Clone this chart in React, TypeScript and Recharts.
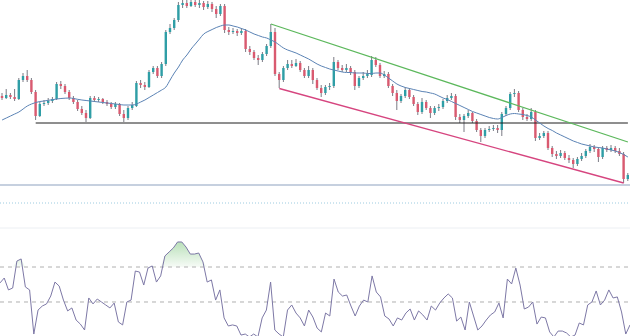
import React from "react";
import { ComposedChart, Bar, Line, Area, XAxis, YAxis, ReferenceLine } from "recharts";

// Price candles (index points)
const openP = [1104,1102,1105,1103,1101,1120,1124,1120,1108,1084,1096,1097,1099,1101,1116,1114,1108,1102,1098,1091,1087,1082,1102,1100,1101,1098,1096,1093,1096,1086,1082,1092,1094,1117,1115,1113,1128,1132,1124,1136,1168,1172,1180,1195,1197,1194,1198,1195,1197,1193,1196,1191,1186,1194,1170,1168,1169,1167,1169,1151,1148,1142,1140,1146,1154,1168,1126,1120,1132,1136,1134,1137,1130,1124,1130,1120,1112,1107,1113,1114,1138,1132,1130,1132,1128,1114,1122,1124,1125,1140,1135,1124,1126,1114,1107,1099,1104,1110,1103,1096,1088,1098,1092,1087,1092,1093,1099,1102,1104,1083,1080,1084,1087,1079,1070,1064,1070,1071,1072,1070,1086,1092,1106,1107,1090,1083,1081,1088,1062,1064,1067,1052,1046,1044,1047,1042,1040,1036,1041,1044,1049,1053,1051,1043,1052,1050,1052,1049,1046,1021];
const highP = [1107,1111,1107,1111,1122,1127,1130,1122,1110,1098,1100,1102,1103,1118,1119,1116,1110,1104,1100,1094,1090,1104,1104,1103,1102,1100,1098,1098,1097,1090,1094,1098,1119,1120,1118,1130,1134,1134,1138,1170,1176,1182,1198,1200,1200,1200,1200,1200,1199,1199,1198,1194,1196,1196,1173,1172,1171,1172,1171,1154,1150,1145,1148,1156,1176,1172,1128,1134,1140,1140,1141,1139,1132,1134,1132,1122,1115,1115,1117,1143,1140,1135,1136,1134,1130,1124,1128,1130,1144,1143,1137,1129,1128,1116,1110,1106,1113,1112,1105,1098,1102,1100,1094,1094,1096,1101,1105,1107,1106,1086,1086,1090,1088,1081,1072,1072,1074,1075,1075,1088,1094,1108,1111,1109,1092,1086,1092,1090,1067,1069,1069,1054,1049,1050,1049,1045,1042,1043,1047,1051,1056,1055,1053,1054,1054,1055,1054,1052,1048,1027];
const lowP = [1100,1101,1101,1099,1100,1118,1118,1106,1080,1083,1094,1095,1097,1100,1111,1106,1100,1096,1089,1085,1078,1081,1098,1098,1096,1094,1091,1091,1084,1078,1080,1090,1093,1112,1110,1112,1126,1122,1122,1134,1166,1170,1178,1192,1192,1193,1193,1192,1190,1191,1188,1182,1184,1167,1165,1166,1164,1165,1148,1145,1140,1135,1138,1144,1152,1124,1112,1118,1130,1132,1133,1128,1122,1122,1116,1110,1103,1105,1110,1112,1130,1128,1128,1125,1110,1112,1120,1122,1123,1133,1122,1122,1112,1104,1090,1097,1102,1101,1094,1085,1086,1090,1082,1085,1089,1091,1097,1100,1080,1077,1068,1082,1077,1068,1058,1062,1068,1069,1067,1064,1084,1090,1103,1088,1080,1079,1079,1059,1060,1062,1050,1043,1041,1042,1040,1037,1032,1034,1039,1042,1047,1048,1038,1041,1048,1048,1047,1044,1017,1019];
const closeP = [1102,1105,1103,1101,1120,1124,1120,1108,1084,1096,1097,1099,1101,1116,1114,1108,1102,1098,1091,1087,1082,1102,1100,1101,1098,1096,1093,1096,1086,1082,1092,1095,1117,1115,1113,1128,1132,1124,1136,1168,1172,1180,1195,1197,1194,1198,1195,1197,1193,1196,1191,1186,1194,1170,1168,1169,1167,1169,1151,1148,1142,1140,1146,1154,1168,1126,1120,1132,1136,1134,1137,1130,1124,1130,1120,1112,1107,1113,1114,1138,1132,1130,1132,1128,1114,1122,1124,1126,1140,1135,1124,1126,1114,1107,1099,1104,1110,1103,1096,1088,1098,1092,1087,1092,1093,1099,1102,1104,1083,1080,1084,1087,1079,1070,1064,1070,1071,1072,1070,1086,1092,1106,1107,1090,1083,1081,1088,1062,1064,1067,1052,1046,1044,1047,1042,1040,1036,1041,1044,1049,1053,1051,1043,1052,1050,1052,1049,1046,1021,1025];
// Moving average
const maP = [1080,1082,1084,1086,1088,1091,1094,1096,1097.5,1098.5,1099,1099.7,1100.3,1101,1101.5,1101.8,1102,1101.5,1100.7,1100,1099.5,1099,1098.5,1098,1097.5,1097,1096.5,1096,1095.5,1095,1095,1095,1096,1098,1100,1102.5,1105,1107.5,1110,1113,1120,1127,1133,1140,1145,1151,1156,1161,1166,1168.5,1170.5,1172.5,1174,1175,1175,1174,1173,1171.5,1170,1168,1166,1164.5,1163,1162,1160,1158,1155,1152,1150,1148.5,1147,1145,1143,1141,1138.5,1136,1134,1132.5,1131,1130,1129,1128,1127.5,1127.5,1127,1127,1127,1126.5,1126.5,1127,1127,1125,1122,1119,1116,1114,1112.5,1111.5,1110.5,1109.5,1108.5,1108,1107,1106,1104,1102,1100.5,1098.5,1096.5,1094.5,1092.5,1090.5,1088.5,1087,1085.5,1084,1082.5,1081.5,1081,1082.5,1084.5,1086,1086.5,1086,1085.5,1084.5,1083,1080,1077,1074,1071.5,1069.5,1067,1065,1063,1061,1059,1057.5,1056,1055,1054,1053,1052.5,1052,1051,1050,1049,1047.5,1045.5,1043];
// RSI
const rsiP = [60.9,63.7,56.9,58.0,73.4,74.6,58.6,56.9,31.7,45.4,47.7,48.9,53.4,61.4,59.1,51.1,44.9,46.6,39.7,37.4,34.0,52.3,48.9,51.7,50.0,48.3,46.6,49.4,38.6,36.9,50.0,51.1,67.7,67.1,59.7,69.4,70.6,61.4,64.9,76.3,78.6,80.9,84.3,84.3,81.4,77.4,77.4,78.0,72.9,61.4,62.6,51.1,56.9,40.9,36.3,36.9,36.3,31.1,31.7,30.0,31.7,30.0,40.9,45.4,61.4,34.0,31.7,30.0,45.4,48.3,43.7,40.9,36.3,45.4,41.4,35.1,32.9,43.7,42.0,63.1,55.7,53.4,54.0,47.7,42.0,47.7,51.1,50.0,64.9,55.7,52.9,42.0,40.3,36.3,40.9,39.7,43.7,46.0,39.7,44.9,42.6,39.7,47.7,45.4,49.4,52.3,54.6,52.3,39.1,41.4,34.0,50.0,42.0,34.0,36.3,39.7,42.6,44.3,49.4,40.9,63.1,60.3,69.4,59.7,46.0,47.1,50.0,37.4,41.4,40.9,32.9,30.0,33.4,33.4,32.3,30.0,31.1,38.0,36.9,48.3,50.0,56.3,48.3,51.1,56.9,52.3,52.9,44.3,31.7,36.9];

const data = openP.map((o, i) => ({
  i,
  open: o,
  high: highP[i],
  low: lowP[i],
  close: closeP[i],
  ma: maP[i],
  rsi: rsiP[i],
}));

const BULL = "#2f9ea6";
const BEAR = "#d95a70";
const WICK = "#4f4f5c";

const Candle = (props: any) => {
  const { x, y, width, height, payload } = props;
  if (!payload) return null;
  const { open, close, high, low } = payload;
  let top = y;
  let h = height;
  if (h < 0) {
    top = y + h;
    h = -h;
  }
  const ratio = high === low ? 0 : h / (high - low);
  const cx = x + width / 2;
  const bTop = top + (high - Math.max(open, close)) * ratio;
  const bBot = top + (high - Math.min(open, close)) * ratio;
  const color = close >= open ? BULL : BEAR;
  return (
    <g>
      <line x1={cx} x2={cx} y1={top} y2={top + h} stroke={WICK} strokeWidth={1} strokeOpacity={0.75} />
      <rect x={cx - 1.2} y={bTop} width={2.4} height={Math.max(1, bBot - bTop)} fill={color} />
    </g>
  );
};

export default function App() {
  return (
    <div style={{ position: "absolute", left: 0, top: 0, width: 630, height: 336, background: "#ffffff", overflow: "hidden" }}>
      <ComposedChart width={630} height={240} data={data} margin={{ top: 0, right: 0, bottom: 0, left: 0 }} barCategoryGap={0}>
        <XAxis dataKey="i" hide />
        <YAxis hide domain={[960, 1200]} allowDataOverflow />
        <ReferenceLine y={972} stroke="#eceff3" strokeWidth={1} />
        <ReferenceLine y={997} stroke="#9ccbe0" strokeWidth={1} strokeDasharray="1 2" />
        <ReferenceLine y={1015} stroke="#b3c0d4" strokeWidth={1.5} />
        <ReferenceLine segment={[{ x: 8, y: 1077 }, { x: 149, y: 1077 }]} stroke="#1e1e1e" strokeWidth={1} />
        <ReferenceLine segment={[{ x: 64, y: 1176 }, { x: 149, y: 1058 }]} stroke="#5cb85c" strokeWidth={1.3} />
        <ReferenceLine segment={[{ x: 66, y: 1111.5 }, { x: 148, y: 1017 }]} stroke="#d6457f" strokeWidth={1.3} />
        <Line dataKey="ma" type="monotone" stroke="#5b83b5" strokeWidth={1} dot={false} activeDot={false} isAnimationActive={false} />
        <Bar dataKey={(d: any) => [d.low, d.high]} shape={<Candle />} activeBar={false} isAnimationActive={false} />
      </ComposedChart>
      <ComposedChart width={630} height={96} data={data} margin={{ top: 0, right: 0, bottom: 0, left: 0 }}>
        <defs>
          <linearGradient id="rsiGrad" x1="0" y1="0" x2="0" y2="1">
            <stop offset="0%" stopColor="#6fbf6f" stopOpacity={0.8} />
            <stop offset="100%" stopColor="#6fbf6f" stopOpacity={0.1} />
          </linearGradient>
        </defs>
        <XAxis dataKey="i" hide />
        <YAxis hide domain={[30.57, 85.43]} allowDataOverflow />
        <ReferenceLine y={70} stroke="#b0b0b0" strokeDasharray="4 4" />
        <ReferenceLine y={50} stroke="#b0b0b0" strokeDasharray="4 4" />
        <Area dataKey={(d: any) => [70, Math.max(70, d.rsi)]} type="linear" stroke="none" fill="url(#rsiGrad)" activeDot={false} isAnimationActive={false} />
        <Line dataKey="rsi" type="linear" stroke="#7d78a6" strokeWidth={1} dot={false} activeDot={false} isAnimationActive={false} />
      </ComposedChart>
    </div>
  );
}
